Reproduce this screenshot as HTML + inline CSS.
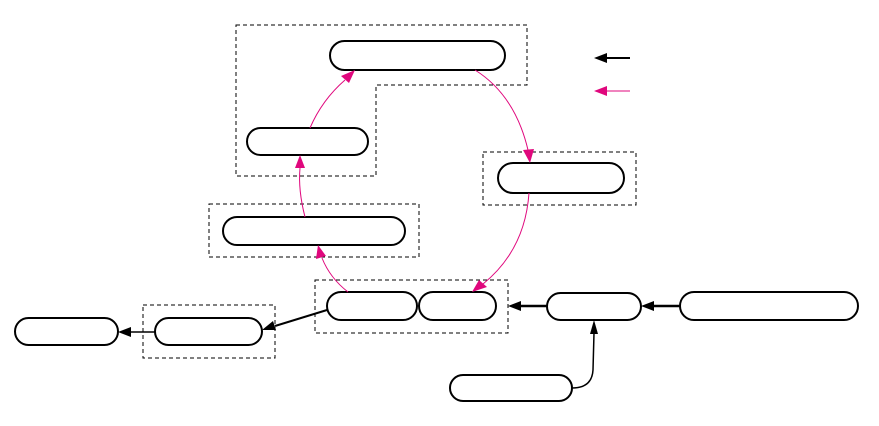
<!DOCTYPE html>
<html><head><meta charset="utf-8"><style>html,body{margin:0;padding:0;background:#fff}svg{display:block}</style></head>
<body>
<svg width="879" height="426" viewBox="0 0 879 426" xmlns="http://www.w3.org/2000/svg">
<defs>
<marker id="bk" viewBox="0 0 10 10" refX="10" refY="5" markerWidth="5" markerHeight="4" orient="auto" markerUnits="userSpaceOnUse" style="overflow:visible">
</marker>
</defs>
<g fill="none" stroke="#000" stroke-width="1" stroke-dasharray="4,3">
<path d="M236 25 H527 V85 H376 V176 H236 Z"/>
<rect x="483" y="152" width="153" height="53"/>
<rect x="209" y="204" width="210" height="53"/>
<rect x="315" y="280" width="193" height="53"/>
<rect x="143" y="305" width="132" height="53"/>
</g>
<g fill="#fff" stroke="#000" stroke-width="2">
<rect x="330" y="41" width="175" height="29" rx="14.5"/>
<rect x="247" y="128" width="121" height="27" rx="13.5"/>
<rect x="223" y="217" width="182" height="28" rx="14"/>
<rect x="498" y="163" width="126" height="30" rx="15"/>
<rect x="327" y="292" width="90" height="28" rx="14"/>
<rect x="419" y="292" width="77" height="28" rx="14"/>
<rect x="547" y="293" width="94" height="27" rx="13.5"/>
<rect x="680" y="292" width="178" height="28" rx="14"/>
<rect x="155" y="318" width="107" height="27" rx="13.5"/>
<rect x="15" y="318" width="103" height="27" rx="13.5"/>
<rect x="450" y="375" width="122" height="26" rx="13"/>
</g>
<!-- magenta curves -->
<g fill="none" stroke="#e0077d" stroke-width="1">
<path d="M305 217 Q298 190 300 168"/>
<path d="M310 128 Q322 100 345 80"/>
<path d="M475 70 Q515 95 528 150"/>
<path d="M529 193 Q525 250 483 284"/>
<path d="M348 292 Q330 278 322 258"/>
<line x1="605" y1="91" x2="630" y2="91"/>
</g>
<g fill="#e0077d">
<polygon points="300,155 295,168 305,168"/>
<polygon points="355,70 341,76 349,83"/>
<polygon points="530,163 523,150 534,149"/>
<polygon points="472,292 479,280 487,287"/>
<polygon points="318,245 316,259 326,256"/>
<polygon points="594,91 607,86 607,96"/>
</g>
<!-- black arrows -->
<g fill="none" stroke="#000">
<line x1="547" y1="306" x2="520" y2="306" stroke-width="2.5"/>
<line x1="680" y1="306" x2="654" y2="306" stroke-width="2.5"/>
<path d="M572 388 Q592 388 593 370 L594 333" stroke-width="1.5"/>
<line x1="327" y1="310" x2="275" y2="326" stroke-width="2"/>
<line x1="155" y1="332" x2="130" y2="332" stroke-width="1.5"/>
<line x1="605" y1="58" x2="630" y2="58" stroke-width="2"/>
</g>
<g fill="#000">
<polygon points="508,306 521,301 521,311"/>
<polygon points="641,306 654,301 654,311"/>
<polygon points="594,320 590,334 598,334"/>
<polygon points="262,330 273,321 276,330"/>
<polygon points="118,332 131,327 131,337"/>
<polygon points="594,58 607,53 607,63"/>
</g>
</svg>
</body></html>
